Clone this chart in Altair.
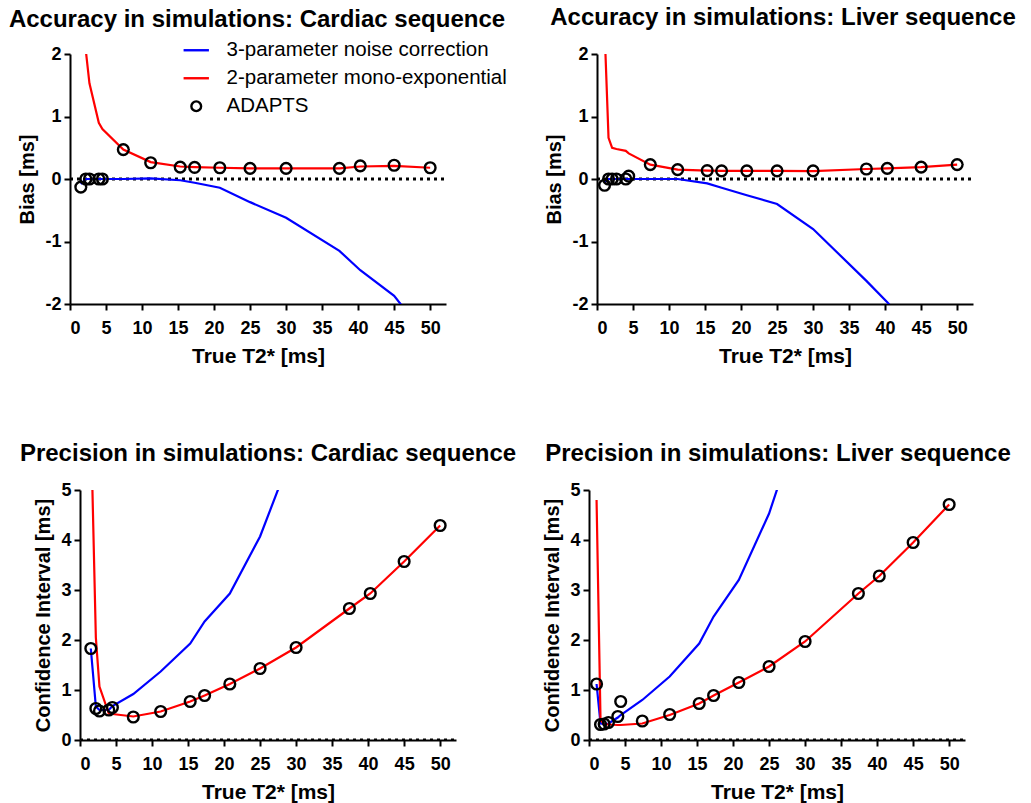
import altair as alt
import pandas as pd

SERIES = ["3-parameter noise correction", "2-parameter mono-exponential", "ADAPTS"]
COLORS = ["#0000ff", "#ff0000", "#000000"]

# True T2* values [ms] simulated for each sequence
t2_cardiac = [1.5, 2.2, 2.7, 4.0, 4.5, 7.4, 11.2, 15.3, 17.3, 20.8, 25.0, 30.0, 37.4, 40.3, 45.0, 50.0]
t2_liver = [1.05, 1.6, 2.1, 2.7, 4.0, 4.4, 7.4, 11.2, 15.3, 17.3, 20.8, 25.0, 30.0, 37.4, 40.3, 45.0, 50.0]

# Bias [ms], cardiac sequence
bias_cardiac_3p = [-0.08, 0.0, 0.0, 0.0, 0.0, 0.0, 0.01, -0.02, -0.06, -0.14, -0.37, -0.62, -1.15, -1.46, -1.87, -2.6]
bias_cardiac_2p = [5.0, 2.05, 1.53, 0.9, 0.8, 0.47, 0.27, 0.2, 0.19, 0.18, 0.17, 0.17, 0.17, 0.2, 0.21, 0.18]
bias_cardiac_adapts = [-0.13, 0.0, 0.0, 0.0, 0.0, 0.47, 0.26, 0.19, 0.185, 0.18, 0.17, 0.17, 0.17, 0.21, 0.22, 0.18]

# Bias [ms], liver sequence
bias_liver_3p = [-0.05, 0.0, 0.0, 0.0, 0.0, 0.0, 0.0, 0.0, -0.07, -0.14, -0.26, -0.40, -0.80, -1.63, -1.97, -2.6, -3.3]
bias_liver_2p = [2.4, 0.66, 0.5, 0.48, 0.45, 0.41, 0.23, 0.15, 0.135, 0.13, 0.13, 0.13, 0.125, 0.16, 0.17, 0.19, 0.23]
bias_liver_adapts = [-0.10, 0.0, 0.0, 0.0, 0.0, 0.045, 0.23, 0.15, 0.135, 0.13, 0.13, 0.13, 0.13, 0.16, 0.17, 0.19, 0.23]

# Confidence interval [ms], cardiac sequence
ci_cardiac_3p = [1.83, 0.67, 0.6, 0.6, 0.68, 0.92, 1.37, 1.93, 2.37, 2.93, 4.07, 5.95]
ci_cardiac_2p = [6.4, 2.05, 1.07, 0.53, 0.52, 0.47, 0.57, 0.77, 0.89, 1.12, 1.43, 1.85, 2.63, 2.93, 3.57, 4.29]
ci_cardiac_adapts = [1.83, 0.63, 0.58, 0.60, 0.65, 0.46, 0.57, 0.77, 0.89, 1.12, 1.43, 1.85, 2.63, 2.93, 3.57, 4.29]

# Confidence interval [ms], liver sequence
ci_liver_3p = [1.12, 0.33, 0.32, 0.33, 0.45, 0.5, 0.8, 1.27, 1.93, 2.47, 3.2, 4.53, 6.7]
ci_liver_2p = [4.8, 0.4, 0.32, 0.31, 0.30, 0.30, 0.33, 0.5, 0.73, 0.89, 1.15, 1.47, 1.97, 2.93, 3.28, 3.95, 4.71]
ci_liver_adapts = [1.12, 0.31, 0.32, 0.35, 0.47, 0.77, 0.38, 0.51, 0.73, 0.89, 1.15, 1.47, 1.97, 2.93, 3.28, 3.95, 4.71]

X_TICKS = list(range(0, 55, 5))
X_MAX = 52.2
PLOT_W = 376
FONT = "Liberation Sans"
# plain hyphen for negative tick labels
Y_LABELS = "(datum.value < 0 ? '-' : '') + abs(datum.value)"


def frame(xs, ys, name):
    n = min(len(xs), len(ys))
    return pd.DataFrame({"t2": xs[:n], "v": ys[:n], "series": [name] * n})


def panel(title, xs, y3, y2, ya, ydomain, yticks, ytitle, *, width, inset=0,
          title_dx=0, title_offset=15, legend=None):
    # the plot area of each panel is PLOT_W wide, inset from the cell's left edge
    x = alt.X("t2:Q",
              scale=alt.Scale(domain=[0, X_MAX], nice=False, zero=False,
                              range=[inset, inset + PLOT_W]),
              axis=alt.Axis(values=X_TICKS, title="True T2* [ms]"))
    y = alt.Y("v:Q", scale=alt.Scale(domain=ydomain, nice=False, zero=False),
              axis=alt.Axis(values=yticks, title=ytitle, labelExpr=Y_LABELS, offset=-inset))

    zero = alt.Chart(pd.DataFrame({"t2": [0, X_MAX], "v": [0, 0]})).mark_line(
        color="black", strokeDash=[3, 4], strokeWidth=3, clip=True
    ).encode(x=x, y=y)

    blue = alt.Chart(frame(xs, y3, SERIES[0])).mark_line(
        color=COLORS[0], strokeWidth=2.2, clip=True
    ).encode(x=x, y=y)
    red = alt.Chart(frame(xs, y2, SERIES[1])).mark_line(
        color=COLORS[1], strokeWidth=2.2, clip=True
    ).encode(x=x, y=y)

    pts = alt.Chart(frame(xs, ya, SERIES[2])).mark_point(
        shape="circle", filled=False, size=115, strokeWidth=2.4, opacity=1, clip=True
    )
    if legend is not None:
        pts = pts.encode(
            x=x, y=y,
            color=alt.Color("series:N", scale=alt.Scale(domain=SERIES, range=COLORS), legend=legend),
            shape=alt.Shape("series:N",
                            scale=alt.Scale(domain=SERIES, range=["M-2.6,0H2.6", "M-2.6,0H2.6", "circle"]),
                            legend=legend),
        )
    else:
        pts = pts.encode(x=x, y=y, color=alt.value("black"))

    return alt.layer(zero, blue, red, pts).properties(
        width=width, height=250,
        title=alt.TitleParams(title, offset=title_offset, dx=title_dx),
    )


series_legend = alt.Legend(
    title=None, orient="none", legendX=116, legendY=-14,
    labelFont=FONT, labelFontSize=20.5, labelFontWeight="normal", labelColor="black",
    symbolSize=95, symbolStrokeWidth=2.4, symbolOpacity=1, labelOffset=20, rowPadding=7,
    labelLimit=400,
)

acc_cardiac = panel("Accuracy in simulations: Cardiac sequence", t2_cardiac,
                    bias_cardiac_3p, bias_cardiac_2p, bias_cardiac_adapts,
                    [-2, 2], [-2, -1, 0, 1, 2], "Bias [ms]",
                    width=386, inset=0, title_dx=-6, title_offset=8, legend=series_legend)
acc_liver = panel("Accuracy in simulations: Liver sequence", t2_liver,
                  bias_liver_3p, bias_liver_2p, bias_liver_adapts,
                  [-2, 2], [-2, -1, 0, 1, 2], "Bias [ms]",
                  width=384, inset=8, title_dx=2)
prec_cardiac = panel("Precision in simulations: Cardiac sequence", t2_cardiac,
                     ci_cardiac_3p, ci_cardiac_2p, ci_cardiac_adapts,
                     [0, 5], [0, 1, 2, 3, 4, 5], "Confidence Interval [ms]",
                     width=386, inset=10, title_dx=5)
prec_liver = panel("Precision in simulations: Liver sequence", t2_liver,
                   ci_liver_3p, ci_liver_2p, ci_liver_adapts,
                   [0, 5], [0, 1, 2, 3, 4, 5], "Confidence Interval [ms]",
                   width=384, inset=0, title_dx=-3)

chart = alt.concat(
    acc_cardiac, acc_liver, prec_cardiac, prec_liver,
    columns=2, spacing={"row": 186, "column": 133},
).resolve_scale(
    x="independent", y="independent", color="independent", shape="independent"
).properties(
    bounds="flush",
    padding={"left": 8, "top": 6, "right": 5, "bottom": 5},
    background="white",
).configure_view(
    stroke=None
).configure_axis(
    grid=False,
    domainColor="black", domainWidth=2,
    tickColor="black", tickWidth=2, tickSize=6,
    labelFont=FONT, labelFontSize=18, labelFontWeight="bold", labelColor="black",
    labelPadding=3,
    titleFont=FONT, titleFontSize=20, titleFontWeight="bold", titleColor="black",
    titlePadding=7,
).configure_axisX(
    labelPadding=9, titlePadding=8, titleFontSize=21,
).configure_title(
    font=FONT, fontSize=24, fontWeight="bold", color="black",
    anchor="middle", frame="group", baseline="alphabetic",
)

chart.save("out.html", embed_options={"renderer": "svg", "actions": False})
